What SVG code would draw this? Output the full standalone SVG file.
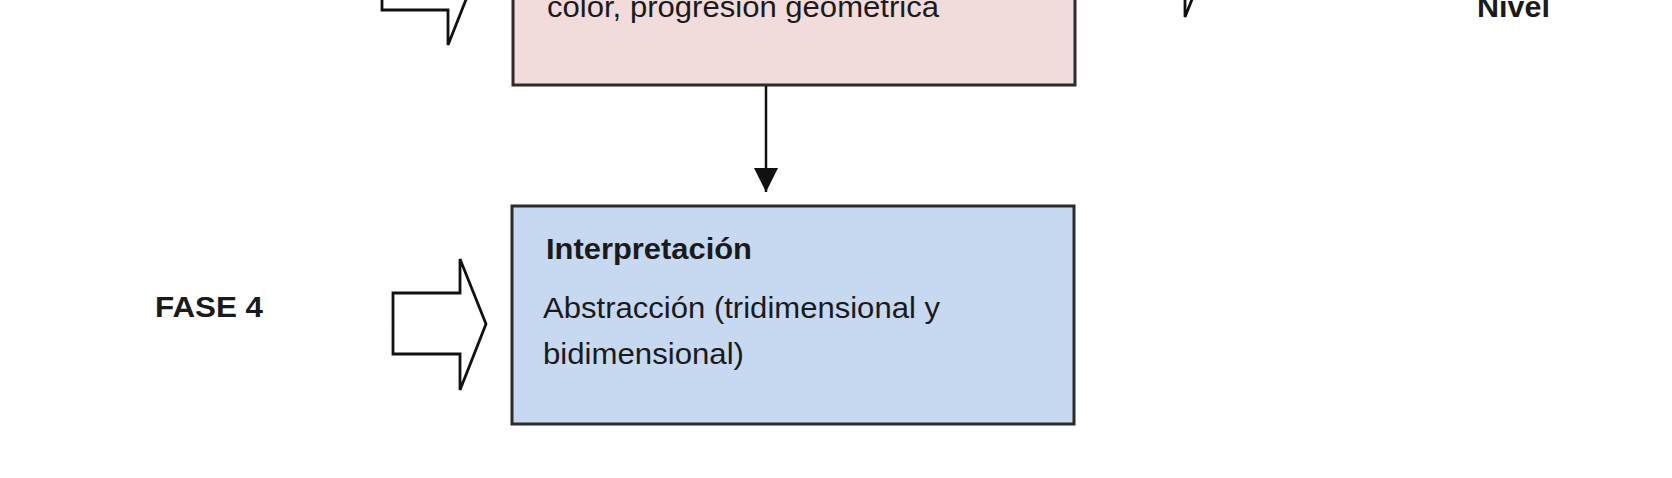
<svg xmlns="http://www.w3.org/2000/svg" width="1672" height="478" viewBox="0 0 1672 478">
<style>
.box{stroke:#2b2b2b;stroke-width:3}
.pink{fill:#f2dcdb}
.blue{fill:#c6d9f1}
.harrow{fill:#ffffff;stroke:#111;stroke-width:2.8;stroke-linejoin:miter}
.t{font-family:"Liberation Sans",Arial,sans-serif;font-size:30px;fill:#1a1a1a}
.b{font-weight:bold}
.conn{stroke:#111;stroke-width:2.5;fill:none}
</style>
<defs>
<marker id="ah" viewBox="0 0 10 10" refX="10" refY="5" markerWidth="24" markerHeight="24" markerUnits="userSpaceOnUse" orient="auto">
<path d="M0,0 L10,5 L0,10 Z" fill="#111"/>
</marker>
</defs>
<rect width="1672" height="478" fill="#ffffff"/>
<g id="arrow-top-left">
<path class="harrow" d="M382,-51 L448,-51 L448,-86 L474,-20.5 L448,45 L448,10 L382,10 Z"/>
</g>
<g id="arrow-top-right">
<path class="harrow" d="M1118,-79 L1185,-79 L1185,-114 L1211,-48.5 L1185,17 L1185,-18 L1118,-18 Z"/>
</g>
<g id="node-fase3">
<rect class="box pink" x="513" y="-60" width="562" height="145"/>
<text class="t" x="547" y="17" textLength="392" lengthAdjust="spacingAndGlyphs">color, progresion geometrica</text>
</g>
<g id="label-nivel">
<text class="t b" x="1477" y="17" textLength="73" lengthAdjust="spacingAndGlyphs">Nivel</text>
</g>
<g id="label-fase4">
<text class="t b" x="155" y="317" textLength="108" lengthAdjust="spacingAndGlyphs">FASE 4</text>
</g>
<g id="arrow-fase4">
<path class="harrow" d="M393,293 L460,293 L460,259 L486,324 L460,390 L460,354 L393,354 Z"/>
</g>
<g id="node-interpretacion">
<rect class="box blue" x="512" y="206" width="562" height="218"/>
<text class="t b" x="546" y="259" textLength="206" lengthAdjust="spacingAndGlyphs">Interpretación</text>
<text class="t" x="543" y="318" textLength="397" lengthAdjust="spacingAndGlyphs">Abstracción (tridimensional y</text>
<text class="t" x="543" y="364" textLength="201" lengthAdjust="spacingAndGlyphs">bidimensional)</text>
</g>
<g id="connectors">
<line class="conn" x1="766" y1="86" x2="766" y2="192" marker-end="url(#ah)"/>
</g>
</svg>
